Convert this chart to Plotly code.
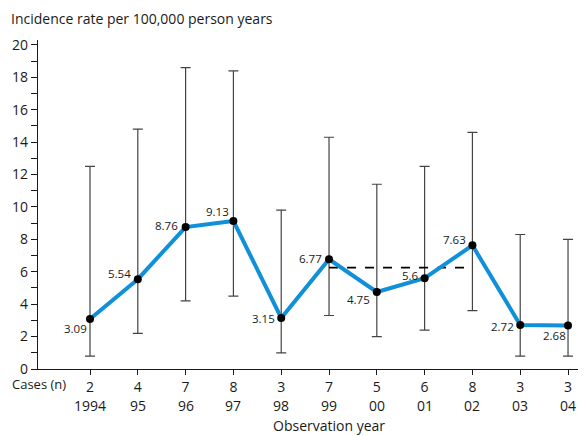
import plotly.graph_objects as go

years = ["1994", "95", "96", "97", "98", "99", "00", "01", "02", "03", "04"]
cases = ["2", "4", "7", "8", "3", "7", "5", "6", "8", "3", "3"]
rates = [3.09, 5.54, 8.76, 9.13, 3.15, 6.77, 4.75, 5.6, 7.63, 2.72, 2.68]
ci_upper = [12.5, 14.8, 18.6, 18.4, 9.8, 14.3, 11.4, 12.5, 14.6, 8.3, 8.0]
ci_lower = [0.8, 2.2, 4.2, 4.5, 1.0, 3.3, 2.0, 2.4, 3.6, 0.8, 0.8]
ref_level = 6.25
ref_span = [5, 8]

x = list(range(len(years)))
err_plus = [u - r for u, r in zip(ci_upper, rates)]
err_minus = [r - l for r, l in zip(rates, ci_lower)]

FONT = "Open Sans"
TXT = "#1a1a1a"
fig = go.Figure()

fig.add_trace(go.Scatter(
    x=x, y=rates, mode="markers",
    marker=dict(size=0.1, color="rgba(0,0,0,0)"),
    error_y=dict(type="data", array=err_plus, arrayminus=err_minus,
                 color="#444444", thickness=1.2, width=5),
    showlegend=False, hoverinfo="skip"))

fig.add_trace(go.Scatter(
    x=[ref_span[0], ref_span[1]], y=[ref_level, ref_level], mode="lines",
    line=dict(color="black", width=1.8, dash="dash"), showlegend=False))

fig.add_trace(go.Scatter(
    x=x, y=rates, mode="lines+markers",
    line=dict(color="#1090d8", width=4),
    marker=dict(size=8, color="black"),
    showlegend=False))

offsets = [(-15, -10), (-18, 6), (-19, 2), (-16, 10), (-18, -1), (-19, 1),
           (-18, -7), (-14, 3), (-18, 6), (-18, -2), (-14, -10)]
for xi, r, (dx, dy) in zip(x, rates, offsets):
    fig.add_annotation(x=xi, y=r, text=f"{r:g}", showarrow=False,
                       xshift=dx, yshift=dy,
                       font=dict(family=FONT, size=11.5, color=TXT))

for xi, yr in zip(x, years):
    fig.add_annotation(x=xi, y=0, yref="y", text=yr, showarrow=False,
                       yshift=-36, font=dict(family=FONT, size=14, color=TXT))

fig.add_annotation(x=0, xref="paper", xanchor="left", xshift=-28, y=0, yref="y",
                   yshift=-15, text="Cases (n)", showarrow=False,
                   font=dict(family=FONT, size=13, color=TXT))
fig.add_annotation(x=5, y=0, yref="y", yshift=-56, text="Observation year",
                   showarrow=False, font=dict(family=FONT, size=14, color=TXT))
fig.add_annotation(x=0, xref="paper", xanchor="left", xshift=-29, y=1, yref="paper",
                   yshift=22, yanchor="middle", text="Incidence rate per 100,000 person years",
                   showarrow=False, font=dict(family=FONT, size=14, color=TXT))

fig.update_xaxes(range=[-1.088, 10.376], tickvals=x, ticktext=cases,
                 ticks="outside", ticklen=5, tickcolor=TXT, showgrid=False,
                 zeroline=False, showline=True, linecolor=TXT, linewidth=1.2,
                 tickfont=dict(family=FONT, size=14, color=TXT))
fig.update_yaxes(range=[0, 20.3], tickvals=list(range(0, 21, 2)),
                 ticks="outside", ticklen=6, tickcolor=TXT, showgrid=False,
                 zeroline=False, showline=True, linecolor=TXT, linewidth=1.2,
                 minor=dict(tickvals=list(range(1, 20, 2)), ticks="outside",
                            ticklen=6, tickcolor=TXT),
                 tickfont=dict(family=FONT, size=14, color=TXT))

fig.update_layout(width=578, height=428, margin=dict(l=30, r=0, t=32, b=67),
                  plot_bgcolor="white", paper_bgcolor="white",
                  font=dict(family=FONT))
fig.write_html("out.html")
